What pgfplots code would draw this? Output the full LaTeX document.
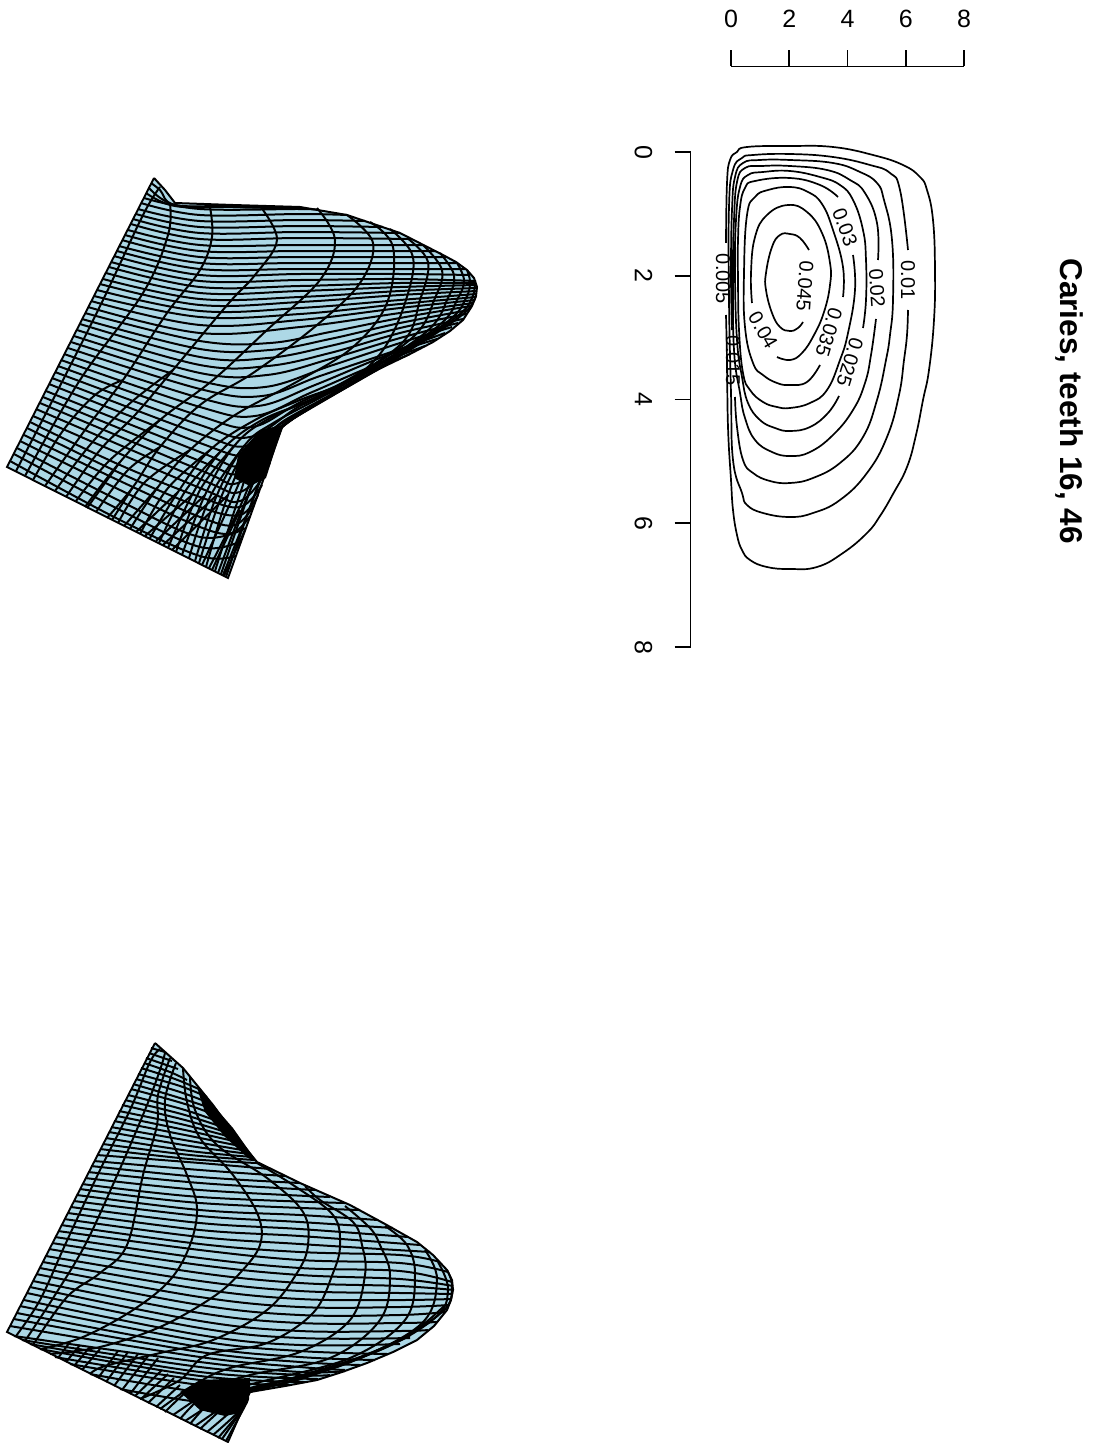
\documentclass[border=0pt]{standalone}
\usepackage{pgfplots}
\pgfplotsset{compat=1.18}
\usepackage{fontspec}
\setmainfont{Liberation Sans}
\definecolor{sb}{HTML}{ADD8E6}
\newcommand\Ln[1]{\addplot[black,line width=2pt,smooth,tension=0.6] coordinates {#1};}
\newcommand\Ed[1]{\addplot[black,line width=1.9pt] coordinates {#1};}
\newcommand\Bk[1]{\addplot[fill=black,draw=none] coordinates {#1};}
\newcommand\Cn[1]{\addplot[black,line width=1.7pt,smooth,tension=0.75] coordinates {#1};}
\newcommand\Lb[4]{\node[rotate=#3,font=\fontsize{20}{22}\selectfont,text=black,inner sep=0pt] at (axis cs:#1,#2) {#4};}
\begin{document}
\begin{tikzpicture}
\useasboundingbox (0,0) rectangle (1094pt,1443pt);
\begin{axis}[at={(0pt,0pt)},anchor=south west,scale only axis,width=1094pt,height=1443pt,
  xmin=0,xmax=1094,ymin=0,ymax=1443,y dir=reverse,hide axis,clip=false]
% ---- upper surface: outline
\addplot[fill=sb,draw=none] coordinates {(154,178)(165,190)(175,203)(233,205)(300,207)(347,215)(400,233)(443,255)(456,262)(467,270)(474,278)(477,287)(476,296)(472,306)(463,320)(450,331)(433,342)(410,354)(383,367)(360,379)(340,390)(320,402)(300,413)(283,425)(228,578)(7,467)};
\Bk{(283,425)(266,478)(250,486)(234,478)(238,455)(260,430)}
% lines of constant i
\Ln{(151,183)(160,190)(175,205)(233,206)(300,208)}
\Ln{(149,188)(175,205)(233,207)(300,208)}
\Ln{(146,193)(175,206)(233,207)(305,209)}
\Ln{(144,198)(200,209)(300,209)(318,210)}
\Ln{(141,203)(200,215)(300,214)(347,215)}
\Ln{(138,209)(200,221)(300,220)(365,221)}
\Ln{(136,214)(200,227)(300,226)(383,227)}
\Ln{(133,219)(200,233)(300,232)(400,233)}
\Ln{(131,224)(200,239)(300,238)(412,239)}
\Ln{(128,230)(200,245)(300,245)(424,245)}
\Ln{(125,235)(200,251)(300,251)(436,251)}
\Ln{(122,240)(200,257)(300,257)(446,257)}
\Ln{(119,246)(200,263)(300,263)(456,263)}
\Ln{(117,251)(200,269)(300,269)(465,269)}
\Ln{(114,256)(200,275)(300,274)(400,274)(470,275)}
\Ln{(111,262)(200,281)(300,280)(400,279)(475,281)}
\Ln{(109,267)(200,287)(300,286)(400,283)(476,283)}
\Ln{(106,273)(200,293)(300,291)(400,287)(477,285)}
\Ln{(103,279)(200,299)(300,297)(400,291)(477,288)}
\Ln{(100,284)(200,305)(300,302)(400,295)(477,291)}
\Ln{(97,290)(200,311)(300,308)(400,300)(476,294)}
\Ln{(94,296)(200,317)(300,314)(400,304)(476,297)}
\Ln{(91,301)(200,325)(300,320)(400,308)(475,300)}
\Ln{(88,307)(200,333)(300,327)(400,313)(473,303)}
\Ln{(85,313)(200,341)(270,343)(330,332)(400,318)(471,306)}
\Ln{(82,319)(200,349)(270,350)(330,339)(400,323)(469,310)}
\Ln{(80,324)(200,357)(268,358)(330,346)(400,328)(466,314)}
\Ln{(77,330)(200,365)(268,366)(330,353)(400,333)(463,319)}
\Ln{(74,336)(200,373)(267,375)(330,359)(400,338)(458,323)}
\Ln{(71,342)(200,381)(265,387)(330,366)(400,343)(452,327)}
\Ln{(68,348)(200,389)(262,396)(320,376)(400,349)(445,333)}
\Ln{(64,354)(200,398)(258,406)(315,385)(385,356)(437,339)}
\Ln{(61,360)(200,407)(255,416)(310,393)(370,367)(425,346)}
\Ln{(58,366)(200,416)(252,427)(305,400)(410,354)}
\Ln{(55,372)(200,425)(250,437)(300,406)(350,385)}
\Ln{(52,378)(200,434)(247,446)(285,420)(325,398)}
\Ln{(49,384)(200,443)(245,455)(275,432)(308,408)}
\Ln{(46,391)(200,452)(240,466)(268,440)(290,420)}
\Ln{(43,397)(200,461)(238,474)(265,452)(283,425)}
\Ln{(40,403)(200,470)(238,483)(274,450)}
\Ln{(36,409)(200,479)(240,492)(270,463)}
\Ln{(33,416)(200,488)(240,501)(266,472)}
\Ln{(30,422)(120,465)(200,497)(240,507)(262,485)}
\Ln{(27,428)(120,473)(200,507)(240,515)(258,495)}
\Ln{(24,435)(120,481)(200,517)(235,525)(254,505)}
\Ln{(20,441)(120,490)(200,527)(232,533)(250,516)}
\Ln{(17,448)(120,501)(200,537)(246,528)}
\Ln{(14,454)(120,510)(200,547)(241,541)}
\Ln{(10,461)(120,520)(200,556)(236,556)}
% lines of constant j: the long arcs
\Ln{(16,471)(63,380)(103,300)(143,215)(160,187)}
\Ln{(25,476)(80,380)(143,293)(168,235)(170,204)}
\Ln{(45,486)(85,430)(123,380)(167,313)(200,270)(212,237)(210,207)}
\Ln{(66,497)(100,450)(135,415)(173,370)(228,304)(255,275)(277,240)(260,206)}
\Ln{(85,507)(120,462)(160,420)(213,380)(267,330)(320,280)(335,240)(317,208)}
\Ln{(107,518)(133,487)(160,447)(200,405)(253,373)(317,325)(360,283)(373,243)(347,215)}
\Ln{(130,529)(158,487)(190,450)(235,415)(300,380)(353,347)(387,303)(393,247)(370,222)}
\Ln{(150,538)(178,492)(210,450)(255,420)(300,400)(350,380)(383,350)(405,303)(413,257)(390,229)}
\Ln{(168,548)(192,495)(222,450)(262,420)(320,395)(400,345)(420,300)(428,262)(407,238)}
\Ln{(182,555)(205,495)(235,445)(270,418)(335,388)(412,338)(435,298)(442,270)(423,245)}
\Ln{(195,561)(217,495)(245,445)(275,422)(345,384)(425,333)(448,298)(454,275)(440,253)}
\Ln{(206,567)(228,495)(252,445)(279,425)(355,380)(437,327)(458,298)(464,280)(457,263)}
\Ln{(215,571)(238,500)(258,445)(283,425)(370,373)(447,322)(466,298)(470,282)(467,270)}
\Ln{(221,574)(245,505)(265,450)(285,424)(385,365)(455,318)(472,298)(475,280)}
\Ln{(226,577)(249,510)(272,450)(290,421)(400,356)(462,315)(476,295)}
% lines of constant j: the lower parts between them
\Ln{(33,480)(62,432)(95,395)(123,380)}
\Ln{(55,491)(90,445)(128,405)(173,370)}
\Ln{(76,501)(110,460)(160,420)}
\Ln{(96,512)(128,470)(160,447)}
\Ln{(118,523)(145,482)(190,450)}
\Ln{(140,534)(168,488)(210,450)}
\Ln{(159,543)(186,490)(222,450)}
\Ln{(176,552)(200,490)(235,445)}
\Ln{(189,558)(211,495)(245,445)}
\Ln{(199,563)(222,495)(248,445)}
\Ln{(202,565)(233,497)(255,445)}
\Ln{(209,568)(243,500)(262,447)}
\Ln{(212,570)(240,510)}
\Ln{(218,573)(243,507)(268,450)}
\Ln{(223,575)(247,515)(272,450)}
\Ln{(224,576)(245,530)}
\Ln{(87,508)(100,490)(120,462)}
\Ln{(112,520)(133,487)}
\Ln{(124,526)(158,487)}
\Ln{(136,532)(178,492)}
\Ln{(145,536)(192,495)}
\Ln{(156,541)(205,495)}
\Ln{(163,545)(217,495)}
\Ln{(172,550)(228,495)}
\Ed{(154,178)(7,467)(228,578)(283,425)}
\addplot[black,line width=2pt] coordinates {(154,178)(165,190)(175,203)(233,205)(300,207)(347,215)(400,233)(443,255)(456,262)(467,270)(474,278)(477,287)(476,296)(472,306)(463,320)(450,331)(433,342)(410,354)(383,367)(360,379)(340,390)(320,402)(300,413)(283,425)};
% ---- lower surface: outline
\addplot[fill=sb,draw=none] coordinates {(155,1043)(183,1068)(213,1105)(235,1135)(257,1162)(300,1183)(350,1205)(385,1224)(417,1242)(433,1255)(447,1270)(452,1280)(453,1290)(451,1300)(447,1310)(434,1326)(417,1340)(393,1352)(367,1363)(342,1372)(317,1380)(285,1386)(250,1392)(228,1442)(7,1332)};
\Bk{(250,1392)(240,1413)(225,1416)(200,1410)(180,1392)(200,1380)(250,1378)}
\Bk{(257,1162)(233,1128)(213,1105)(197,1087)(200,1097)(205,1112)(225,1137)(248,1158)}
% lines of constant i
\Ln{(151,1048)(165,1052)}
\Ln{(149,1053)(172,1061)}
\Ln{(146,1058)(178,1069)}
\Ln{(144,1063)(170,1072)(187,1080)}
\Ln{(141,1068)(175,1079)(201,1090)}
\Ln{(138,1074)(180,1086)(207,1097)}
\Ln{(136,1079)(180,1092)(212,1104)}
\Ln{(133,1084)(180,1098)(217,1110)}
\Ln{(131,1089)(185,1104)(223,1118)}
\Ln{(128,1095)(185,1110)(228,1125)}
\Ln{(125,1100)(185,1115)(231,1130)}
\Ln{(122,1105)(185,1120)(235,1135)}
\Ln{(119,1111)(185,1125)(238,1139)}
\Ln{(117,1116)(185,1130)(242,1143)}
\Ln{(114,1121)(185,1135)(245,1147)}
\Ln{(111,1127)(190,1141)(248,1151)}
\Ln{(109,1132)(190,1146)(250,1154)}
\Ln{(106,1138)(190,1151)(253,1157)}
\Ln{(103,1144)(190,1155)(255,1160)}
\Ln{(100,1149)(190,1159)(257,1163)}
\Ln{(97,1155)(200,1163)(270,1169)}
\Ln{(94,1161)(200,1170)(285,1176)}
\Ln{(91,1166)(200,1177)(300,1183)}
\Ln{(88,1172)(200,1183)(315,1190)}
\Ln{(85,1178)(200,1190)(330,1197)}
\Ln{(82,1184)(200,1197)(345,1203)}
\Ln{(80,1189)(200,1203)(360,1210)}
\Ln{(77,1195)(200,1210)(300,1215)(378,1220)}
\Ln{(74,1201)(200,1216)(300,1222)(393,1228)}
\Ln{(71,1207)(200,1223)(300,1229)(408,1237)}
\Ln{(68,1213)(200,1230)(300,1236)(420,1245)}
\Ln{(64,1219)(200,1237)(300,1244)(430,1252)}
\Ln{(61,1225)(200,1244)(300,1252)(400,1255)(440,1262)}
\Ln{(58,1231)(200,1250)(300,1260)(400,1263)(448,1272)}
\Ln{(55,1237)(200,1258)(300,1268)(400,1271)(452,1282)}
\Ln{(52,1243)(200,1265)(300,1275)(400,1279)(453,1286)}
\Ln{(49,1249)(200,1273)(300,1283)(400,1286)(454,1290)}
\Ln{(46,1256)(200,1281)(300,1291)(400,1293)(453,1294)}
\Ln{(43,1262)(200,1289)(300,1299)(400,1300)(451,1299)}
\Ln{(40,1268)(200,1297)(300,1307)(400,1307)(449,1305)}
\Ln{(36,1274)(200,1305)(300,1315)(400,1315)(445,1312)}
\Ln{(33,1281)(200,1313)(300,1323)(400,1323)(437,1322)}
\Ln{(30,1287)(200,1321)(300,1331)(400,1331)(428,1330)}
\Ln{(27,1293)(200,1328)(300,1338)(410,1338)}
\Ln{(24,1300)(200,1335)(300,1345)(400,1344)}
\Ln{(20,1306)(200,1341)(300,1351)(388,1354)}
\Ln{(17,1313)(200,1347)(300,1357)(375,1360)}
\Ln{(14,1319)(200,1352)(300,1362)(360,1365)}
\Ln{(10,1326)(200,1357)(300,1367)(345,1370)}
\Ln{(14,1336)(200,1362)(300,1372)(345,1371)}
\Ln{(22,1340)(200,1367)(300,1375)(330,1375)}
\Ln{(30,1344)(200,1372)(318,1379)}
\Ln{(40,1349)(200,1376)(305,1382)}
\Ln{(55,1357)(200,1380)(290,1385)}
\Ln{(70,1364)(200,1385)(270,1388)}
\Ln{(90,1374)(200,1392)(250,1390)}
\Ln{(120,1389)(200,1402)(245,1400)}
% lines of constant j
\Ln{(16,1336)(40,1300)(65,1245)(100,1170)(130,1110)(150,1062)(160,1049)}
\Ln{(25,1341)(55,1295)(85,1245)(115,1180)(145,1110)(160,1070)(165,1053)}
\Ln{(33,1345)(67,1297)(100,1273)(127,1245)(143,1175)(157,1125)(158,1095)(170,1058)}
\Ln{(41,1349)(83,1337)(133,1310)(170,1280)(190,1245)(197,1208)(187,1175)(170,1135)(165,1100)(176,1063)}
\Ln{(50,1354)(100,1347)(160,1327)(213,1297)(240,1273)(260,1245)(258,1215)(233,1175)(200,1138)(187,1102)(183,1068)}
\Ln{(90,1374)(105,1366)(160,1353)(213,1340)(267,1310)(297,1273)(308,1245)(303,1212)(267,1178)(217,1145)(195,1110)(190,1077)}
\Ln{(140,1399)(180,1380)(207,1355)(267,1343)(313,1313)(333,1273)(340,1245)(333,1215)(293,1185)(257,1163)}
\Ln{(165,1412)(195,1385)(230,1368)(300,1352)(350,1320)(365,1275)(362,1245)(353,1222)(320,1200)(305,1186)}
\Ln{(180,1419)(210,1390)(250,1375)(330,1358)(380,1320)(390,1275)(380,1245)(370,1228)(345,1206)}
\Ln{(190,1424)(222,1392)(260,1382)(350,1358)(405,1320)(415,1275)(407,1245)(385,1226)}
\Ln{(200,1429)(232,1400)(250,1388)(340,1366)(420,1325)(437,1280)(425,1250)}
\Ln{(207,1432)(238,1405)(250,1390)(350,1362)(432,1320)(448,1290)(438,1262)}
\Ln{(213,1435)(240,1410)(250,1392)(380,1350)(442,1312)(452,1287)(447,1270)}
\Ln{(218,1438)(243,1408)(250,1392)(310,1376)(400,1340)(445,1305)}
\Ln{(222,1439)(245,1405)(250,1392)(300,1379)(380,1350)(430,1322)}
\Ln{(226,1441)(247,1402)(250,1392)(290,1381)(360,1357)(410,1336)}
% short parts of the j lines near the lower edge
\Ln{(58,1358)(70,1342)}
\Ln{(66,1362)(80,1345)}
\Ln{(74,1366)(90,1347)}
\Ln{(82,1370)(100,1349)}
\Ln{(98,1378)(118,1351)}
\Ln{(106,1382)(128,1352)}
\Ln{(114,1386)(138,1354)}
\Ln{(122,1390)(148,1356)}
\Ln{(130,1394)(158,1358)}
\Ln{(135,1396)(162,1370)}
\Ln{(141,1399)(168,1374)}
\Ln{(148,1403)(174,1378)}
\Ln{(156,1407)(180,1385)}
\Ln{(160,1409)(186,1390)}
\Ln{(173,1415)(195,1400)}
\Ln{(185,1421)(205,1408)}
\Ln{(195,1426)(215,1412)}
\Ed{(155,1043)(7,1332)(228,1442)(250,1392)}
\addplot[black,line width=2pt] coordinates {(155,1043)(183,1068)(213,1105)(235,1135)(257,1162)(300,1183)(350,1205)(385,1224)(417,1242)(433,1255)(447,1270)(452,1280)(453,1290)(451,1300)(447,1310)(434,1326)(417,1340)(393,1352)(367,1363)(342,1372)(317,1380)(285,1386)(250,1392)};
% ---- texts
\node[rotate=-90,font=\bfseries\fontsize{31.5}{36}\selectfont] at (axis cs:1069,401) {Caries, teeth 16, 46};
\Lb{723}{279}{-90}{0.005}
\Lb{733}{361}{-90}{0.015}
\Lb{908}{280}{-90}{0.01}
\Lb{877}{288}{-86}{0.02}
\Lb{850}{362}{-107}{0.025}
\Lb{845}{227}{-70}{0.03}
\Lb{829}{332}{-107}{0.035}
\Lb{763}{330}{-60}{0.04}
\Lb{805}{286}{-94}{0.045}
\end{axis}
\begin{axis}[at={(690.5pt,796pt)},anchor=south west,scale only axis,width=273.5pt,height=580.5pt,
  xmin=-1.39056,xmax=8,ymin=-1.38182,ymax=8,y dir=reverse,clip=false,
  x filter/.expression={(x-731)/29.125},y filter/.expression={(y-152)/61.875},
  axis line style={draw=none},
  xtick={0,2,4,6,8},ytick={0,2,4,6,8},
  xtick pos=upper,ytick pos=left,xticklabel pos=upper,yticklabel pos=left,
  tick align=outside,major tick length=16pt,
  tick style={black,line width=1.6pt},
  /pgf/number format/assume math mode=true,
  tick label style={font=\fontsize{25}{30}\selectfont,black},
  yticklabel style={rotate=-90,anchor=center,yshift=-31pt},
  xticklabel style={anchor=center,yshift=31.5pt}]
\addplot[black,line width=1.6pt] coordinates {(731,66.5)(964,66.5)};
\addplot[black,line width=1.6pt] coordinates {(690.5,152)(690.5,647)};
% 0.005
\Cn{(726,315)(727,360)(728,427)(731,480)(733,510)(737,535)(742,550)(750,560)(767,567)(790,569)(817,567)(843,553)(867,533)(880,516)(893,494)(907,467)(916,435)(923,400)(929,370)(934,320)(935,270)(933,220)(927,190)(920,177)(903,165)(873,155)(833,147)(790,146)(747,147)(737,152)(730,160)(727,183)(726,243)}
% 0.01
\Cn{(908,250)(900,190)(890,173)(870,165)(833,157)(790,154)(753,155)(742,158)(733,170)(729,207)(729,300)(731,393)(733,460)(742,493)(747,505)(763,513)(790,517)(813,513)(840,500)(867,473)(887,437)(899,395)(904,360)(907,335)(908,310)}
% 0.015
\Cn{(732,330)(731,273)(732,210)(735,177)(743,163)(760,160)(790,160)(833,163)(860,172)(877,183)(884,200)(892,240)(893,300)(890,335)(886,360)(877,400)(863,437)(840,463)(813,478)(790,483)(770,481)(753,473)(743,460)(737,427)(735,397)}
% 0.02
\Cn{(878,260)(877,223)(865,193)(850,180)(827,170)(790,166)(762,166)(745,168)(737,182)(734,220)(733,273)(734,350)(740,393)(745,418)(755,440)(772,452)(790,456)(810,452)(833,435)(853,410)(865,383)(871,355)(876,319)}
% 0.025
\Cn{(863,328)(866,300)(866,260)(863,230)(853,200)(840,185)(820,177)(790,171)(763,172)(748,175)(740,187)(736,220)(735,273)(737,340)(742,377)(748,403)(760,420)(775,428)(790,431)(810,427)(828,413)(839,396)}
% 0.03
\Cn{(853,255)(855,290)(848,333)(840,360)(827,390)(810,403)(790,408)(777,407)(763,402)(750,390)(743,373)(739,330)(738,280)(738,240)(740,207)(745,188)(755,181)(790,178)(820,185)(838,197)}
% 0.035
\Cn{(843,297)(843,267)(833,230)(822,204)(808,192)(790,187)(768,190)(755,197)(747,215)(744,273)(745,327)(753,363)(763,375)(777,383)(790,385)(807,382)(820,365)}
% 0.04
\Cn{(752,303)(751,273)(755,237)(767,215)(788,205)(807,212)(822,233)(830,263)(830,285)(824,312)(814,335)(802,353)(790,360)(777,357)}
% 0.045
\Cn{(809,250)(800,238)(790,234)(780,235)(772,247)(766,273)(766,290)(772,313)(780,327)(790,331)(798,328)(803,322)}
\end{axis}
\end{tikzpicture}
\end{document}
